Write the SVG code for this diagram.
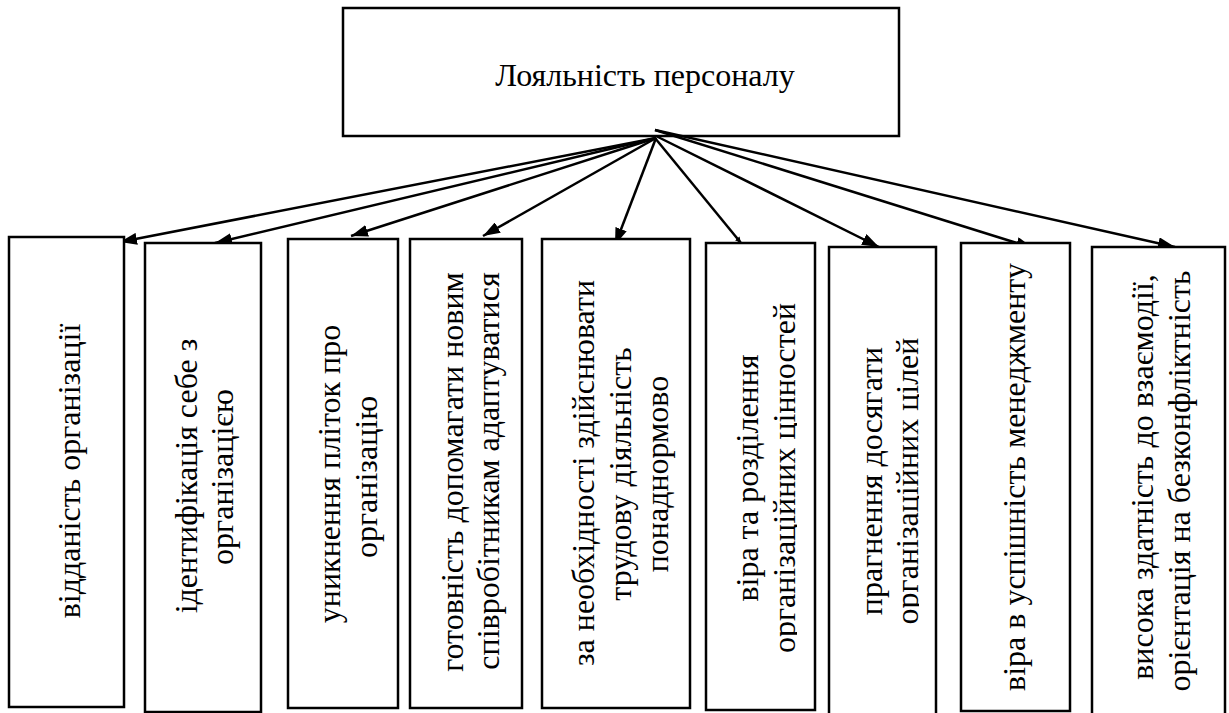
<svg xmlns="http://www.w3.org/2000/svg" width="1229" height="713" viewBox="0 0 1229 713" font-family="Times New Roman">
<defs>
<marker id="ah" viewBox="0 0 17 12" refX="17" refY="6" markerWidth="17" markerHeight="12" markerUnits="userSpaceOnUse" orient="auto">
<path d="M0,0 L17,6 L0,12 z" fill="#000"/>
</marker>
<marker id="ahs" viewBox="0 0 6 6" refX="6" refY="3" markerWidth="6" markerHeight="6" markerUnits="userSpaceOnUse" orient="auto">
<path d="M0,0 L6,3 L0,6 z" fill="#000"/>
</marker>
<clipPath id="clip6"><rect x="700" y="240" width="97" height="473"/></clipPath>
<clipPath id="clip7"><rect x="825" y="240" width="94" height="473"/></clipPath>
</defs>
<rect width="1229" height="713" fill="#fff"/>
<g id="root">
<rect x="343" y="8" width="556" height="128" fill="#fff" stroke="#000" stroke-width="2.5"/>
<text x="645" y="86" font-family="Times New Roman" font-size="32" text-anchor="middle">Лояльність персоналу</text>
</g>
<g id="connectors" stroke="#000" stroke-width="2.5" fill="none">
<line x1="656" y1="138" x2="120" y2="242" marker-end="url(#ah)"/>
<line x1="656" y1="138" x2="215" y2="243" marker-end="url(#ah)"/>
<line x1="656" y1="138" x2="351" y2="236" marker-end="url(#ah)"/>
<line x1="656" y1="138" x2="483" y2="236" marker-end="url(#ah)"/>
<line x1="656" y1="138" x2="615" y2="245" marker-end="url(#ah)"/>
<line x1="655" y1="138" x2="741" y2="243" marker-end="url(#ahs)"/>
<line x1="656" y1="136" x2="879" y2="247" marker-end="url(#ah)"/>
<line x1="655" y1="130" x2="1033" y2="248" marker-end="url(#ah)"/>
<line x1="655" y1="130" x2="1175" y2="247" marker-end="url(#ah)"/>
</g>
<g id="n1">
<rect x="9" y="237" width="115" height="470" fill="#fff" stroke="#000" stroke-width="2.5"/>
<text transform="translate(80,471) rotate(-90)" font-family="Times New Roman" font-size="32" text-anchor="middle">відданість організації</text>
</g>
<g id="n2">
<rect x="145" y="243" width="116" height="469" fill="#fff" stroke="#000" stroke-width="2.5"/>
<text transform="translate(197,476) rotate(-90)" font-family="Times New Roman" font-size="32" text-anchor="middle">ідентифікація себе з</text>
<text transform="translate(233,477) rotate(-90)" font-family="Times New Roman" font-size="32" text-anchor="middle">організацією</text>
</g>
<g id="n3">
<rect x="288" y="239" width="110" height="469" fill="#fff" stroke="#000" stroke-width="2.5"/>
<text transform="translate(340,474) rotate(-90)" font-family="Times New Roman" font-size="32" text-anchor="middle">уникнення пліток про</text>
<text transform="translate(377,477) rotate(-90)" font-family="Times New Roman" font-size="32" text-anchor="middle">організацію</text>
</g>
<g id="n4">
<rect x="410" y="239" width="112" height="469" fill="#fff" stroke="#000" stroke-width="2.5"/>
<text transform="translate(463,472) rotate(-90)" font-family="Times New Roman" font-size="32" text-anchor="middle">готовність допомагати новим</text>
<text transform="translate(499,471) rotate(-90)" font-family="Times New Roman" font-size="32" text-anchor="middle">співробітникам адаптуватися</text>
</g>
<g id="n5">
<rect x="542" y="239" width="148" height="469" fill="#fff" stroke="#000" stroke-width="2.5"/>
<text transform="translate(594,473) rotate(-90)" font-family="Times New Roman" font-size="32" text-anchor="middle">за необхідності здійснювати</text>
<text transform="translate(631,474) rotate(-90)" font-family="Times New Roman" font-size="32" text-anchor="middle">трудову діяльність</text>
<text transform="translate(668,474) rotate(-90)" font-family="Times New Roman" font-size="32" text-anchor="middle">понаднормово</text>
</g>
<g id="n6">
<rect x="706" y="243" width="109" height="467" fill="#fff" stroke="#000" stroke-width="2.5"/>
<text transform="translate(758,478) rotate(-90)" font-family="Times New Roman" font-size="32" text-anchor="middle">віра та розділення</text>
<g clip-path="url(#clip6)">
<text transform="translate(795,478) rotate(-90)" font-family="Times New Roman" font-size="32" text-anchor="middle">організаційних цінностей</text>
</g>
</g>
<g id="n7">
<rect x="829" y="247" width="107" height="470" fill="#fff" stroke="#000" stroke-width="2.5"/>
<text transform="translate(882,481) rotate(-90)" font-family="Times New Roman" font-size="32" text-anchor="middle">прагнення досягати</text>
<g clip-path="url(#clip7)">
<text transform="translate(918,481) rotate(-90)" font-family="Times New Roman" font-size="32" text-anchor="middle">організаційних цілей</text>
</g>
</g>
<g id="n8">
<rect x="961" y="243" width="109" height="468" fill="#fff" stroke="#000" stroke-width="2.5"/>
<text transform="translate(1025,477) rotate(-90)" font-family="Times New Roman" font-size="32" text-anchor="middle">віра в успішність менеджменту</text>
</g>
<g id="n9">
<rect x="1092" y="247" width="133" height="470" fill="#fff" stroke="#000" stroke-width="2.5"/>
<text transform="translate(1153,477) rotate(-90)" font-family="Times New Roman" font-size="32" text-anchor="middle">висока здатність до взаємодії,</text>
<text transform="translate(1190,481) rotate(-90)" font-family="Times New Roman" font-size="32" text-anchor="middle">орієнтація на безконфліктність</text>
</g>
</svg>
